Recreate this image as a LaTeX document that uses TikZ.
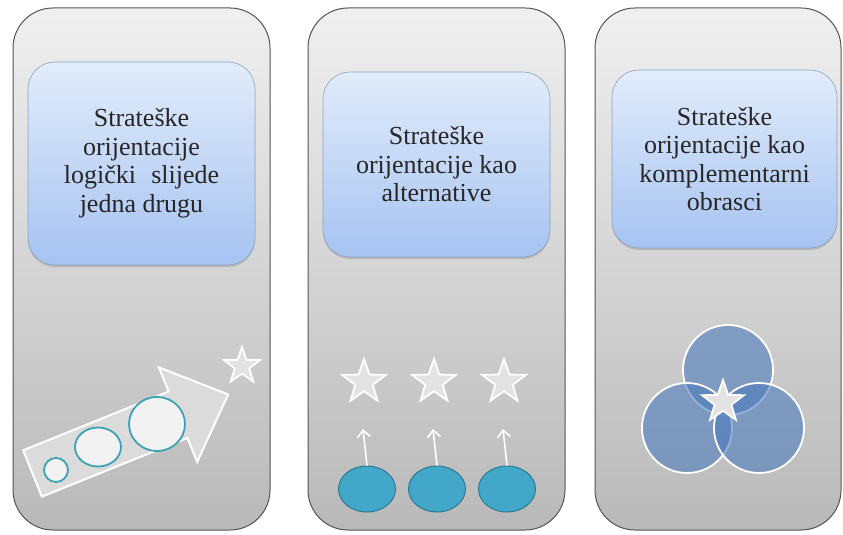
\documentclass[tikz,border=0pt]{standalone}
\usepackage{fontspec}
\setmainfont{Liberation Serif}
\usepackage{tikz}
\usetikzlibrary{positioning, arrows.meta, shapes.geometric, shadows}

\definecolor{panelline}{HTML}{555555}
\definecolor{boxtop}{HTML}{E2ECFB}
\definecolor{boxbottom}{HTML}{A6C3F1}
\definecolor{boxline}{HTML}{8EA3C2}
\definecolor{tealline}{HTML}{3DA2B4}
\definecolor{dotfill}{HTML}{42A7C8}
\definecolor{dotline}{HTML}{2B7A92}
\definecolor{vennfill}{RGB}{75,122,188}

\begin{document}
\begin{tikzpicture}[x=1pt, y=-1pt,
    panel/.style={draw=panelline, line width=1pt, top color=gray!12, bottom color=gray!55, rounded corners=40pt},
    textbox/.style={draw=boxline, line width=0.6pt, top color=boxtop, bottom color=boxbottom,
        rounded corners=27pt, align=center, text=black!85,
        drop shadow={opacity=0.35, shadow xshift=0pt, shadow yshift=-2pt},
        font=\fontsize{26}{28.5}\selectfont},
    whitestar/.style={star, star points=5, star point ratio=2.5, inner sep=0pt,
        draw=white, line width=1.8pt, fill=gray!22},
    bubble/.style={draw=tealline, line width=1.8pt, fill=gray!10},
    dot/.style={ellipse, draw=dotline, line width=1pt, fill=dotfill,
        minimum width=57pt, minimum height=46pt, inner sep=0pt},
    venn/.style={draw=white, line width=1.8pt, fill=vennfill, fill opacity=0.58}]
        \useasboundingbox (0,0) rectangle (843,535);

        % Panels
        \foreach \l/\r in {13/270, 308/565, 595/841}
            \draw[panel] (\l,8) rectangle (\r,530);

        % Text boxes
        \node[textbox, minimum width=227pt, minimum height=203pt] (b1) at (141.5,163.5)
            {Strateške\\orijentacije\\logički\,\, slijede\\jedna drugu};
        \node[textbox, minimum width=227pt, minimum height=185pt] (b2) at (436.5,164.5)
            {Strateške\\orijentacije kao\\alternative};
        \node[textbox, minimum width=225pt, minimum height=178pt] (b3) at (724.5,159)
            {Strateške\\orijentacije kao\\komplementarni\\obrasci};

        % Panel 1: growing arrow
        \begin{scope}[shift={(32.5,473.5)}, rotate=22]
            \draw[white, line width=2pt, fill=gray!28] (0,-25) -- (157,-25) -- (157,-51)
                -- (211,0) -- (157,51) -- (157,25) -- (0,25) -- cycle;
        \end{scope}
        \draw[bubble] (56,470) circle (12);
        \draw[bubble] (98,447) ellipse (23 and 19.5);
        \draw[bubble] (157,424) ellipse (28 and 27);
        \node[whitestar, minimum size=38pt] (s1) at (242,366) {};

        % Panel 2: alternatives
        \foreach \i/\x in {1/367, 2/437, 3/507} {
            \node[dot] (e\i) at (\x,489) {};
            \node[whitestar, minimum size=46pt] (t\i) at (\x-3,382) {};
            \coordinate (a\i) at (\x-4,429);
            \draw[white, line width=1.6pt, -{Straight Barb[length=7pt, width=13pt]}] (e\i.north) -- (a\i);
        }

        % Panel 3: overlapping circles
        \draw[venn] (728,370) circle (45);
        \draw[venn] (687,428) circle (45);
        \draw[venn] (759,428) circle (45);
        \node[whitestar, minimum size=44pt] (s3) at (723,402) {};
    \end{tikzpicture}
\end{document}
